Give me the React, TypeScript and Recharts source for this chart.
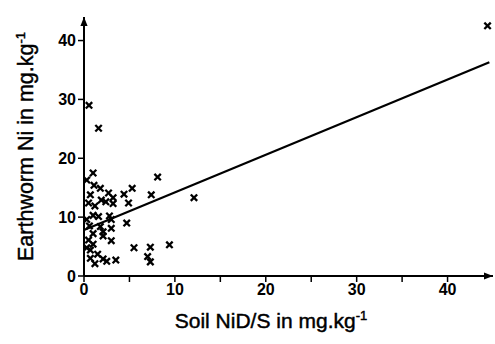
import React from 'react';
import { ScatterChart, Scatter, XAxis, YAxis, ReferenceLine, Label } from 'recharts';

// soil Ni (mg/kg) vs earthworm Ni (mg/kg)
const soilNi = [
	44.4, 0.55, 1.6, 1.0, 0.3, 8.1, 1.1, 1.8, 5.3, 4.4, 2.7, 0.7, 7.4, 12.1, 3.2, 1.9, 0.5,
	2.4, 3.2, 4.9, 1.2, 1.0, 0.3, 1.6, 2.8, 3.0, 4.7, 0.6, 1.8, 3.0, 2.1, 1.0, 2.1, 0.5, 3.0,
	1.0, 5.5, 7.3, 9.4, 0.3, 0.7, 1.5, 7.0, 0.7, 2.1, 2.5, 3.5, 1.2, 7.3,
];
const wormNi = [
	42.5, 29.0, 25.1, 17.5, 16.3, 16.8, 15.4, 14.9, 14.9, 13.9, 14.1, 13.8, 13.8, 13.3, 13.3, 12.9, 12.4,
	12.6, 12.3, 12.4, 11.9, 10.3, 9.6, 10.1, 10.2, 9.6, 9.0, 8.5, 8.4, 8.1, 7.5, 7.2, 6.8, 6.1, 6.0,
	5.4, 4.8, 4.9, 5.3, 4.8, 4.4, 3.7, 3.3, 3.0, 2.9, 2.5, 2.7, 2.1, 2.4,
];

// fitted line
const fitX = [0, 44.6];
const fitY = [7.8, 36.3];

const xTicks = [0, 5, 10, 15, 20, 25, 30, 35, 40];
const yTicks = [0, 10, 20, 30, 40];

const data = soilNi.map((x, i) => ({ x, y: wormNi[i] }));

const font = '"Liberation Sans", Arial, sans-serif';

const Cross = (props: any) => {
	const { cx, cy } = props;
	const r = 3.2;
	return (
		<g stroke="#000" strokeWidth={2.3}>
			<line x1={cx - r} y1={cy - r} x2={cx + r} y2={cy + r} />
			<line x1={cx - r} y1={cy + r} x2={cx + r} y2={cy - r} />
		</g>
	);
};

const XTitle = (props: any) => {
	const { viewBox } = props;
	return (
		<text x={viewBox.x + 187} y={328} textAnchor="middle" fontSize={21} fontFamily={font}
			fill="#000" stroke="#000" strokeWidth={0.45}>
			Soil NiD/S in mg.kg<tspan dy={-8} fontSize={13}>-1</tspan>
		</text>
	);
};

const YTitle = (props: any) => {
	const { viewBox } = props;
	const cx = 33;
	const cy = viewBox.y + viewBox.height / 2;
	return (
		<text x={cx} y={cy} transform={`rotate(-90 ${cx} ${cy})`} textAnchor="middle" fontSize={21.5}
			fontFamily={font} fill="#000" stroke="#000" strokeWidth={0.45}>
			Earthworm Ni in mg.kg<tspan dy={-8} fontSize={13}>-1</tspan>
		</text>
	);
};

const tickStyle = { fill: '#000', fontSize: 16, fontWeight: 'bold', fontFamily: font };

const App = () => {
	return (
		<div>
			<style>{'body{margin:0}'}</style>
			<svg width={0} height={0} style={{ position: 'absolute' }}>
				<defs>
					<marker id="arrow" viewBox="0 0 10 8" refX={10} refY={4} markerWidth={9} markerHeight={8}
						markerUnits="userSpaceOnUse" orient="auto-start-reverse">
						<path d="M0,0 L10,4 L0,8 z" fill="#000" />
					</marker>
				</defs>
			</svg>
			<ScatterChart width={495} height={344} margin={{ top: 17, right: 2, bottom: 0, left: 0 }}>
				<XAxis
					type="number"
					dataKey="x"
					domain={[0, 45]}
					ticks={xTicks}
					tickFormatter={(v: number) => (v % 10 === 0 ? String(v) : '')}
					height={68}
					tickSize={6}
					tick={tickStyle}
					axisLine={{ stroke: '#000', strokeWidth: 2, markerEnd: 'url(#arrow)' }}
					tickLine={{ stroke: '#000', strokeWidth: 1.5 }}
					allowDataOverflow
				>
					<Label content={XTitle} />
				</XAxis>
				<YAxis
					type="number"
					dataKey="y"
					domain={[0, 44]}
					ticks={yTicks}
					width={84}
					tickSize={6}
					tick={tickStyle}
					axisLine={{ stroke: '#000', strokeWidth: 2, markerStart: 'url(#arrow)' }}
					tickLine={{ stroke: '#000', strokeWidth: 1.5 }}
					allowDataOverflow
				>
					<Label content={YTitle} />
				</YAxis>
				<ReferenceLine
					segment={[{ x: fitX[0], y: fitY[0] }, { x: fitX[1], y: fitY[1] }]}
					stroke="#000"
					strokeWidth={2.2}
					ifOverflow="visible"
				/>
				<Scatter data={data} shape={Cross} isAnimationActive={false} />
			</ScatterChart>
		</div>
	);
};

export default App;
